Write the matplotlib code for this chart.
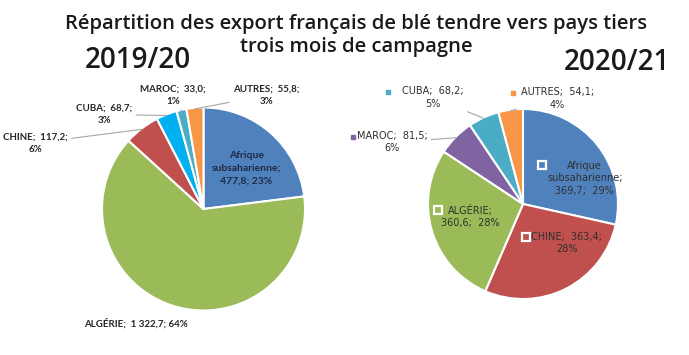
import numpy as np
import matplotlib
matplotlib.use("Agg")
import matplotlib.pyplot as plt

# 2019/20 campaign (thousand tonnes)
pays_1920 = ["Afrique\nsubsaharienne", "ALGÉRIE", "CHINE", "CUBA", "MAROC", "AUTRES"]
vals_1920 = [477.8, 1322.7, 117.2, 68.7, 33.0, 55.8]
pcts_1920 = ["23%", "64%", "6%", "3%", "1%", "3%"]
cols_1920 = ["#4F81BD", "#9BBB59", "#C0504D", "#00B0F0", "#4BACC6", "#F79646"]

# 2020/21 campaign
pays_2021 = ["Afrique\nsubsaharienne", "CHINE", "ALGÉRIE", "MAROC", "CUBA", "AUTRES"]
vals_2021 = [369.7, 363.4, 360.6, 81.5, 68.2, 54.1]
pcts_2021 = ["29%", "28%", "28%", "6%", "5%", "4%"]
cols_2021 = ["#4F81BD", "#C0504D", "#9BBB59", "#8064A2", "#4BACC6", "#F79646"]

W, H = 689, 355
fig = plt.figure(figsize=(W / 100, H / 100), dpi=100)
K = 2.2


def fr(v):
    return ("%.1f" % v).replace(".", ",")


def fr_big(v):
    s = "{:,.1f}".format(v)
    return s.replace(",", " ").replace(".", ",")


def pie_axes(cx, cy, r):
    # cx, cy, r in pixels (y from top); axes limits +-K in pie units
    ax = fig.add_axes([(cx - K * r) / W, (H - cy - K * r) / H, 2 * K * r / W, 2 * K * r / H])
    return ax


def fix_axes(ax):
    ax.set_xlim(-K, K)
    ax.set_ylim(-K, K)
    ax.set_aspect("auto")
    ax.axis("off")


def mid_point(vals, i, rad=1.0):
    cum = np.cumsum([0] + list(vals)) / sum(vals)
    a = np.deg2rad(90 - 360 * (cum[i] + cum[i + 1]) / 2)
    return rad * np.cos(a), rad * np.sin(a)


# ---- left pie 2019/20
ax1 = pie_axes(203.5, 209, 101.5)
ax1.pie(vals_1920, colors=cols_1920, startangle=90, counterclock=False, radius=1,
        wedgeprops=dict(edgecolor="white", linewidth=1.5))
fix_axes(ax1)

lab_font = dict(family=["Lato", "DejaVu Sans"], fontweight="bold", fontsize=7, color="#262626",
                ha="center", va="center", linespacing=1.5)
lab1_pos = {0: (0.42, 0.40), 1: (-0.67, -1.13), 2: (-1.66, 0.65), 3: (-0.98, 0.93),
            4: (-0.30, 1.12), 5: (0.62, 1.12)}
for i, name in enumerate(pays_1920):
    v = fr_big(vals_1920[i]) if vals_1920[i] >= 1000 else fr(vals_1920[i])
    if i == 0:
        txt = "%s;\n%s; %s" % (name, v, pcts_1920[i])
        ax1.text(*lab1_pos[i], txt, **dict(lab_font, color="#1F2A44", fontsize=7.5))
    elif i == 1:
        ax1.text(*lab1_pos[i], "%s;  %s; %s" % (name, v, pcts_1920[i]), **lab_font)
    else:
        txt = "%s;  %s;\n%s" % (name, v, pcts_1920[i])
        ax1.annotate(txt, xy=mid_point(vals_1920, i, 0.99), xytext=lab1_pos[i],
                     annotation_clip=False,
                     arrowprops=dict(arrowstyle="-", color="#A6A6A6", lw=0.8, shrinkA=1, shrinkB=0),
                     **lab_font)

# ---- right pie 2020/21
ax2 = pie_axes(523, 204, 95)
ax2.pie(vals_2021, colors=cols_2021, startangle=90, counterclock=False, radius=1,
        wedgeprops=dict(edgecolor="white", linewidth=1.5))
fix_axes(ax2)

lab2_font = dict(family=["DejaVu Sans"], fontsize=7, color="#303030",
                 ha="center", va="center", linespacing=1.3)
lab2_pos = {0: (0.65, 0.27), 1: (0.46, -0.41), 2: (-0.55, -0.13), 3: (-1.38, 0.65),
            4: (-0.95, 1.12), 5: (0.36, 1.11)}
mark2_pos = {0: (0.20, 0.41), 1: (0.03, -0.35), 2: (-0.89, -0.06), 3: (-1.79, 0.71),
             4: (-1.42, 1.18), 5: (-0.11, 1.17)}
for i, name in enumerate(pays_2021):
    v = fr(vals_2021[i])
    mx, my = mark2_pos[i]
    if i <= 2:
        if i == 1:
            txt = "%s;  %s;\n%s" % (name, v, pcts_2021[i])
        else:
            txt = "%s;\n%s;  %s" % (name, v, pcts_2021[i])
        ax2.text(*lab2_pos[i], txt, **lab2_font)
        ax2.plot(mx, my, marker="s", ms=5.5, mfc=cols_2021[i], mec="white", mew=1.6, clip_on=False)
    else:
        txt = "%s;  %s;\n%s" % (name, v, pcts_2021[i])
        ax2.annotate(txt, xy=mid_point(vals_2021, i, 0.99), xytext=lab2_pos[i],
                     annotation_clip=False,
                     arrowprops=dict(arrowstyle="-", color="#A6A6A6", lw=0.8, shrinkA=1, shrinkB=0),
                     **lab2_font)
        ax2.plot(mx, my, marker="s", ms=3.5, mfc=cols_2021[i], mec=cols_2021[i], clip_on=False)

# ---- titles
title_font = dict(family=["Open Sans", "DejaVu Sans"], fontweight="semibold", color="#1A1A1A",
                  ha="center", va="center")
fig.text(356 / W, 1 - 24 / H, "Répartition des export français de blé tendre vers pays tiers",
         fontsize=14.6, **title_font)
fig.text(356 / W, 1 - 47 / H, "trois mois de campagne", fontsize=14.6, **title_font)
fig.text(138 / W, 1 - 61 / H, "2019/20", fontsize=20, **title_font)
fig.text(617 / W, 1 - 63 / H, "2020/21", fontsize=20, **title_font)

fig.savefig("out.png", dpi=100, facecolor="white")
